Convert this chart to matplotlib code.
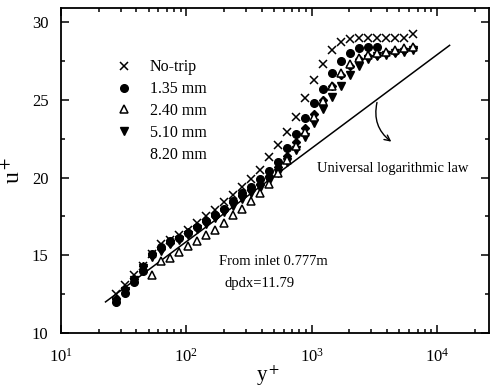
import matplotlib
matplotlib.use('Agg')
import matplotlib.pyplot as plt
from matplotlib.lines import Line2D
from matplotlib.ticker import LogLocator, MultipleLocator

plt.rcParams['font.family'] = ['Liberation Serif', 'DejaVu Serif']
plt.rcParams['mathtext.fontset'] = 'stix'

# y+ stations
yp = [23.3, 27.4, 32.4, 38.2, 45.0, 53.1, 62.6, 73.9, 87.2, 102.8, 121.3, 143.0, 168.7, 199.0,
      234.8, 276.9, 326.6, 385.3, 454.6, 536.2, 632.4, 746, 880, 1038, 1224, 1444, 1703, 2009,
      2370, 2795, 3297, 3889, 4587, 5411, 6383]

# No-trip (x), from station 2
u_notrip = [12.5, 13.1, 13.7, 14.3, 15.1, 15.7, 16.0, 16.3, 16.6, 17.1, 17.5, 17.9, 18.4, 18.9,
            19.4, 19.9, 20.5, 21.3, 22.1, 22.9, 23.9, 25.1, 26.3, 27.3, 28.2, 28.7, 28.9, 29.0,
            29.0, 29.0, 29.0, 29.0, 29.0, 29.2]
# 1.35 mm (filled circle), stations 2..31
u_135 = [12.0, 12.6, 13.3, 14.0, 15.1, 15.5, 15.9, 16.1, 16.4, 16.8, 17.2, 17.6, 18.0, 18.5,
         19.0, 19.4, 19.9, 20.4, 21.0, 21.9, 22.8, 23.8, 24.8, 25.7, 26.7, 27.5, 28.0, 28.3,
         28.4, 28.4]
# 2.40 mm (open triangle), stations 6..35
u_240 = [13.7, 14.6, 14.8, 15.2, 15.6, 15.9, 16.3, 16.6, 17.1, 17.6, 18.0, 18.5, 19.0, 19.6,
         20.3, 21.1, 22.0, 22.9, 23.9, 24.9, 25.9, 26.7, 27.3, 27.7, 27.9, 28.0, 28.1, 28.2,
         28.3, 28.4]
# 5.10 mm (filled down triangle), stations 2..35
u_510 = [12.0, 12.7, 13.4, 14.2, 14.9, 15.3, 15.7, 16.0, 16.3, 16.7, 17.0, 17.4, 17.8, 18.2,
         18.6, 19.0, 19.3, 19.8, 20.3, 21.0, 21.8, 22.6, 23.5, 24.4, 25.2, 25.9, 26.6, 27.2,
         27.6, 27.8, 27.9, 28.0, 28.1, 28.2]
# 8.20 mm, stations 2..35
u_820 = [12.2, 12.8, 13.5, 14.3, 15.0, 15.4, 15.8, 16.1, 16.5, 16.8, 17.2, 17.5, 17.9, 18.4,
         18.8, 19.2, 19.6, 20.1, 20.7, 21.4, 22.3, 23.2, 24.1, 25.0, 25.9, 26.6, 27.2, 27.6,
         27.8, 27.9, 28.0, 28.1, 28.2, 28.3]

# universal log law end points
law_y = [22.7, 12600]
law_u = [12.0, 28.5]

fig = plt.figure(figsize=(4.91, 3.92), dpi=100)
ax = fig.add_axes([0.124, 0.1505, 0.872, 0.829])

ax.plot(law_y, law_u, color='black', lw=1.1)
ax.plot(yp[1:], u_820, 'D', ms=4.5, color='black', mec='black')
ax.plot(yp[1:], u_510, 'v', ms=6, color='black')
ax.plot(yp[1:31], u_135, 'o', ms=5.5, color='black')
ax.plot(yp[5:], u_240, '^', ms=5.5, mfc='white', mec='black', mew=1.1)
ax.plot(yp[1:], u_notrip, 'x', ms=6, color='black', mew=1.1)

ax.set_xscale('log')
ax.set_xlim(10, 2.6e4)
ax.set_ylim(10, 30.9)
ax.yaxis.set_major_locator(MultipleLocator(5))
ax.yaxis.set_minor_locator(MultipleLocator(2.5))
ax.xaxis.set_major_locator(LogLocator(base=10, numticks=10))
ax.xaxis.set_minor_locator(LogLocator(base=10, subs=range(2, 10), numticks=20))
ax.tick_params(which='both', direction='in', top=True, right=True, labelsize=12, width=1.1)
ax.tick_params(which='major', length=6)
ax.tick_params(which='minor', length=3)
ax.tick_params(axis='x', which='major', pad=11)
ax.tick_params(axis='y', which='major', pad=9)
for s in ax.spines.values():
    s.set_linewidth(1.3)

ax.set_ylabel('u$^+$', fontsize=17)
ax.yaxis.set_label_coords(-0.085, 0.5)
ax.set_xlabel('y$^+$', fontsize=15)
ax.xaxis.set_label_coords(0.484, -0.092)

handles = [Line2D([], [], ls='none', marker='x', ms=6, color='black', mew=1.1),
           Line2D([], [], ls='none', marker='o', ms=5.5, color='black'),
           Line2D([], [], ls='none', marker='^', ms=5.5, mfc='white', mec='black', mew=1.1),
           Line2D([], [], ls='none', marker='v', ms=6, color='black'),
           Line2D([], [], ls='none', marker='none')]
labels = ['No-trip', '1.35 mm', '2.40 mm', '5.10 mm', '8.20 mm']
ax.legend(handles, labels, loc='upper left', bbox_to_anchor=(0.11, 0.867), frameon=False,
          fontsize=11.5, handlelength=1.0, handletextpad=1.1, labelspacing=0.37, borderpad=0)

ax.annotate('', xy=(4500, 22.2), xytext=(3360, 25.0),
            arrowprops=dict(arrowstyle='->', color='black', lw=1.0,
                            connectionstyle='arc3,rad=0.35'))
ax.text(1100, 20.6, 'Universal logarithmic law', fontsize=10.5, va='center')
ax.text(181, 14.6, 'From inlet 0.777m', fontsize=10.5, va='center')
ax.text(203, 13.2, 'dpdx=11.79', fontsize=10.5, va='center')

fig.savefig('out.png', dpi=100)
